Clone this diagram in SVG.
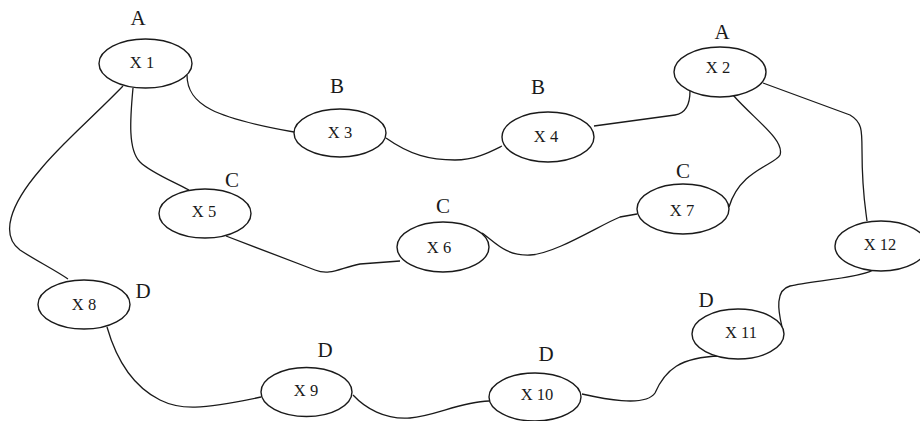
<svg xmlns="http://www.w3.org/2000/svg" width="920" height="421" viewBox="0 0 920 421">
<style>
.n{fill:#fff;stroke:#1a1a1a;stroke-width:1.4}
.e{fill:none;stroke:#1a1a1a;stroke-width:1.3}
.t{font-family:"Liberation Serif",serif;font-size:16.5px;fill:#1a1a1a;text-anchor:middle}
.g{font-family:"Liberation Serif",serif;font-size:21px;fill:#1a1a1a;text-anchor:middle}
</style>
<rect width="920" height="421" fill="#fff"/>
<g id="connectors">
<path class="e" d="M187,75 C187,105 215,118 294,132"/>
<path class="e" d="M386,138 C410,155 430,160 455,160 C475,160 490,152 502,146"/>
<path class="e" d="M594,126 L675,115 C688,113 690,100 690,91"/>
<path class="e" d="M733,95 C755,120 785,140 780,155 C775,165 740,170 729,207"/>
<path class="e" d="M763,83 L850,115 C862,122 862,130 862,150 C862,190 865,205 867,221"/>
<path class="e" d="M133,88 C130,120 128,150 140,162 C150,172 170,180 189,190"/>
<path class="e" d="M226,236 L315,270 C330,276 340,268 360,264 L400,261"/>
<path class="e" d="M482,233 C495,242 505,256 530,255 C555,254 600,225 620,217 L637,214"/>
<path class="e" d="M123,86 C90,120 60,145 40,170 C10,205 0,235 20,250 C35,260 55,270 68,279"/>
<path class="e" d="M107,327 C115,355 130,385 160,400 C180,410 200,410 261,397"/>
<path class="e" d="M353,395 C365,408 385,420 410,418 C435,416 460,402 489,401"/>
<path class="e" d="M582,394 C600,398 645,408 655,393 C665,370 680,357 720,356"/>
<path class="e" d="M782,327 C778,310 775,290 790,286 C810,281 860,278 873,270"/>
</g>
<g id="x1"><ellipse class="n" cx="145.5" cy="63.5" rx="46.5" ry="24.5"/><text class="t" x="142" y="68">X 1</text><text class="g" x="138" y="25">A</text></g>
<g id="x2"><ellipse class="n" cx="720" cy="72" rx="46" ry="25"/><text class="t" x="718" y="73">X 2</text><text class="g" x="722" y="39">A</text></g>
<g id="x3"><ellipse class="n" cx="340" cy="133" rx="46" ry="24"/><text class="t" x="340" y="138">X 3</text><text class="g" x="337" y="93">B</text></g>
<g id="x4"><ellipse class="n" cx="548" cy="137" rx="46" ry="25"/><text class="t" x="546" y="142">X 4</text><text class="g" x="538" y="94">B</text></g>
<g id="x5"><ellipse class="n" cx="205" cy="213.5" rx="46" ry="24.5"/><text class="t" x="204" y="217">X 5</text><text class="g" x="232" y="187">C</text></g>
<g id="x6"><ellipse class="n" cx="443" cy="247" rx="46" ry="25"/><text class="t" x="439" y="253">X 6</text><text class="g" x="443" y="213">C</text></g>
<g id="x7"><ellipse class="n" cx="683" cy="209" rx="46" ry="25"/><text class="t" x="682" y="216">X 7</text><text class="g" x="683" y="178">C</text></g>
<g id="x8"><ellipse class="n" cx="84" cy="304.5" rx="46" ry="24.5"/><text class="t" x="84" y="310">X 8</text><text class="g" x="143" y="298">D</text></g>
<g id="x9"><ellipse class="n" cx="306.5" cy="392" rx="45.5" ry="24.5"/><text class="t" x="306" y="396">X 9</text><text class="g" x="325" y="357">D</text></g>
<g id="x10"><ellipse class="n" cx="535" cy="397" rx="46" ry="24"/><text class="t" x="537" y="400">X 10</text><text class="g" x="546" y="361">D</text></g>
<g id="x11"><ellipse class="n" cx="738" cy="334" rx="46" ry="25"/><text class="t" x="741" y="338">X 11</text><text class="g" x="706" y="307">D</text></g>
<g id="x12"><ellipse class="n" cx="881" cy="246" rx="46" ry="25"/><text class="t" x="880" y="250">X 12</text></g>
</svg>
